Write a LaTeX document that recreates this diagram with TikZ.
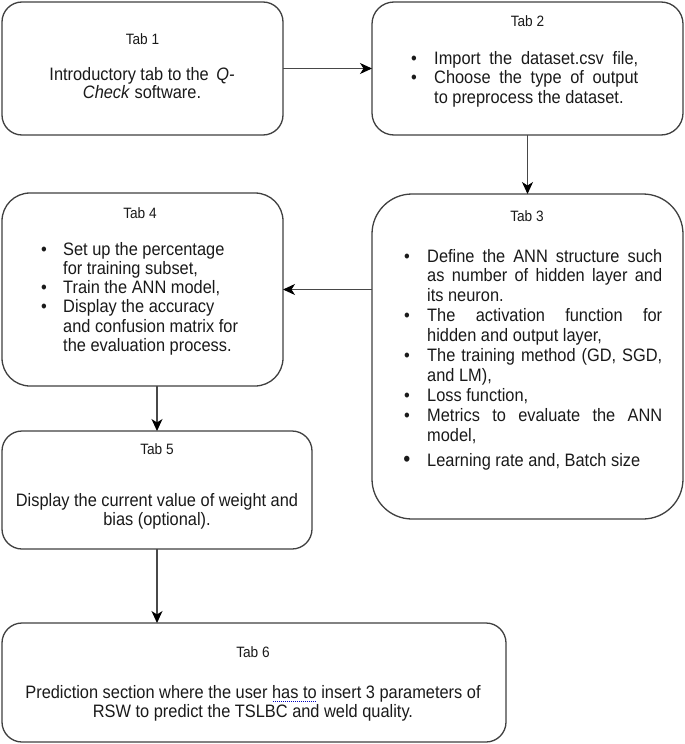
\documentclass[tikz,border=0pt]{standalone}
\usepackage{fontspec}
\setmainfont{Liberation Sans}[FakeStretch=0.91]
\usetikzlibrary{arrows.meta}
\definecolor{boxline}{HTML}{404040}
\definecolor{arrline}{HTML}{484848}
\definecolor{txtcol}{HTML}{1A1A1A}
\newlength{\bulind}
\newcommand{\bodyfont}{\fontsize{18}{19.5}\selectfont}
\newcommand{\titlefont}{\fontsize{15}{17}\selectfont}
\newcommand{\bul}{\par\noindent\hangindent=\bulind\hangafter=1\hbox to\bulind{\textbullet\hfil}}
\newcommand{\bigbul}{\par\noindent\hangindent=\bulind\hangafter=1\hbox to\bulind{\hskip-0.8pt\raisebox{-0.8pt}{\fontsize{22}{22}\selectfont\textbullet}\hfil}}
\newcommand{\cblock}[3]{\vtop{\hsize=#1\parindent=0pt\parskip=0pt\centering\baselineskip=#2\relax #3\par}}
\newcommand{\jblock}[4]{\vtop{\hsize=#1\parindent=0pt\parskip=0pt\baselineskip=#2\bulind=#3\relax #4\par}}
\newcommand{\rblock}[4]{\vtop{\hsize=#1\parindent=0pt\parskip=0pt\raggedright\baselineskip=#2\bulind=#3\relax #4\par}}
\newcommand{\gram}[1]{\setbox0=\hbox{#1}\rlap{\raisebox{-3.5pt}{\color{blue!75!black}\hbox to\wd0{\leaders\hbox to 2pt{\hss\vrule height 1pt width 1pt\hss}\hfill}}}\box0\relax}
\begin{document}
\begin{tikzpicture}[x=1pt,y=-1pt,
  box/.style={draw=boxline,line width=1.3pt,rectangle,inner sep=0pt,outer sep=0pt},
  arr/.style={draw=arrline,line width=1.1pt,-{Stealth[length=12pt,width=11pt,inset=3.5pt,color=black]}},
  ttl/.style={anchor=base,inner sep=0pt,font=\titlefont,text=txtcol},
  body/.style={anchor=base,inner sep=0pt,font=\bodyfont,text=txtcol},
  bodyw/.style={anchor=base west,inner sep=0pt,font=\bodyfont,text=txtcol}]
\useasboundingbox (0,0) rectangle (685,744);
\fill[white] (0,0) rectangle (685,744);
% boxes
\node[box,rounded corners=20pt,minimum width=281pt,minimum height=133pt] (t1) at (142.5,68.5) {};
\node[box,rounded corners=22pt,minimum width=311pt,minimum height=133pt] (t2) at (527.5,68.5) {};
\node[box,rounded corners=40pt,minimum width=311pt,minimum height=325pt] (t3) at (527.5,356.5) {};
\node[box,rounded corners=28pt,minimum width=281pt,minimum height=193pt] (t4) at (142.5,289.5) {};
\node[box,rounded corners=20pt,minimum width=310pt,minimum height=118pt] (t5) at (157,490) {};
\node[box,rounded corners=20pt,minimum width=504pt,minimum height=119pt] (t6) at (254,682.5) {};
% arrows
\draw[arr] (t1.east) -- (t2.west);
\draw[arr] (t2.south) -- (t3.north);
\draw[arr] (t3.west |- t4.east) -- (t4.east);
\draw[arr] (t4.south -| t5.north) -- (t5.north);
\draw[arr] (t5.south) -- (t6.north -| t5.south);
% Tab 1
\node[ttl] (t1t) at (142.5,44) {Tab 1};
\node[body] (t1b) at (142,80) {\cblock{260pt}{18.5pt}{Introductory tab to the\,\ \textit{Q-}\\\textit{Check} software.}};
% Tab 2
\node[ttl] (t2t) at (527.5,27) {Tab 2};
\node[bodyw] (t2b) at (411,64) {\jblock{227pt}{19.5pt}{23pt}{\bul{\parfillskip=0pt Import the dataset.csv file,\par}\bul Choose the type of output\linebreak to preprocess the dataset.}};
% Tab 3
\node[ttl] (t3t) at (527,221) {Tab 3};
\node[bodyw] (t3b) at (404,262) {\jblock{258pt}{19.9pt}{23pt}{\bul Define the ANN structure such\linebreak as number of hidden layer and\linebreak its neuron.\bul The activation function for\linebreak hidden and output layer,\bul The training method (GD, SGD,\linebreak and LM),\bul Loss function,\bul Metrics to evaluate the ANN\linebreak model,\par\vskip 5pt\bigbul Learning rate and, Batch size}};
% Tab 4
\node[ttl] (t4t) at (140,218) {Tab 4};
\node[bodyw] (t4b) at (41,255) {\rblock{205pt}{19.3pt}{22pt}{\bul Set up the percentage\newline for training subset,\bul Train the ANN model,\bul Display the accuracy\newline and confusion matrix for\newline the evaluation process.}};
% Tab 5
\node[ttl] (t5t) at (157,454) {Tab 5};
\node[body] (t5b) at (157,506) {\cblock{305pt}{19pt}{Display the current value of weight and\\bias (optional).}};
% Tab 6
\node[ttl] (t6t) at (253,657) {Tab 6};
\node[body] (t6b) at (253,698) {\cblock{490pt}{19pt}{Prediction section where the user \gram{has to} insert 3 parameters of\\RSW to predict the TSLBC and weld quality.}};
\end{tikzpicture}
\end{document}
